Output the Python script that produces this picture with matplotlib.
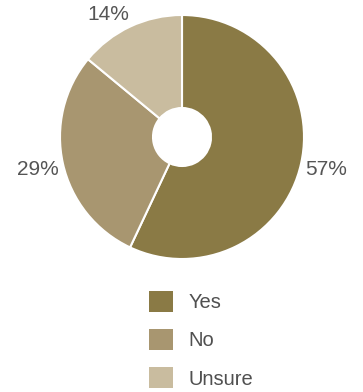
import numpy as np
import matplotlib
matplotlib.use("Agg")
import matplotlib.pyplot as plt
from matplotlib.patches import Patch

plt.rcParams['font.family'] = ['Liberation Sans', 'DejaVu Sans']

categories = ["Yes", "No", "Unsure"]
values = [57, 29, 14]
colors = ["#8a7a45", "#a89670", "#c9bc9f"]

fig = plt.figure(figsize=(3.63, 3.92), dpi=100)
ax = fig.add_axes([60 / 363, 1 - 259 / 392, 244 / 363, 244 / 392])
wedges, _ = ax.pie(values, colors=colors, startangle=90, counterclock=False,
                   radius=1.0,
                   wedgeprops=dict(width=1 - 29 / 122, edgecolor="white", linewidth=1.5))
ax.set_xlim(-1, 1)
ax.set_ylim(-1, 1)
ax.set_aspect('auto')
ax.axis('off')

# percentage labels outside, kept inside the figure
for w, v in zip(wedges, values):
    ang = np.deg2rad((w.theta1 + w.theta2) / 2)
    r = 1.21
    x, y = r * np.cos(ang), r * np.sin(ang)
    if y > 1.0:  # pull top label down so it stays on the canvas
        x, y = x - 0.09, 1.0
    ax.text(x, y, f"{v}%", ha="center", va="center", fontsize=15,
            color="#555555", clip_on=False)

handles = [Patch(facecolor=c, edgecolor="none") for c in colors]
fig.legend(handles, categories, loc="upper left",
           bbox_to_anchor=(149 / 363, 1 - 291 / 392), frameon=False,
           fontsize=14.5, handlelength=1.2, handleheight=1.2,
           handletextpad=0.75, labelspacing=0.85, borderpad=0, borderaxespad=0,
           labelcolor="#505050")

fig.savefig("out.png", dpi=100)
